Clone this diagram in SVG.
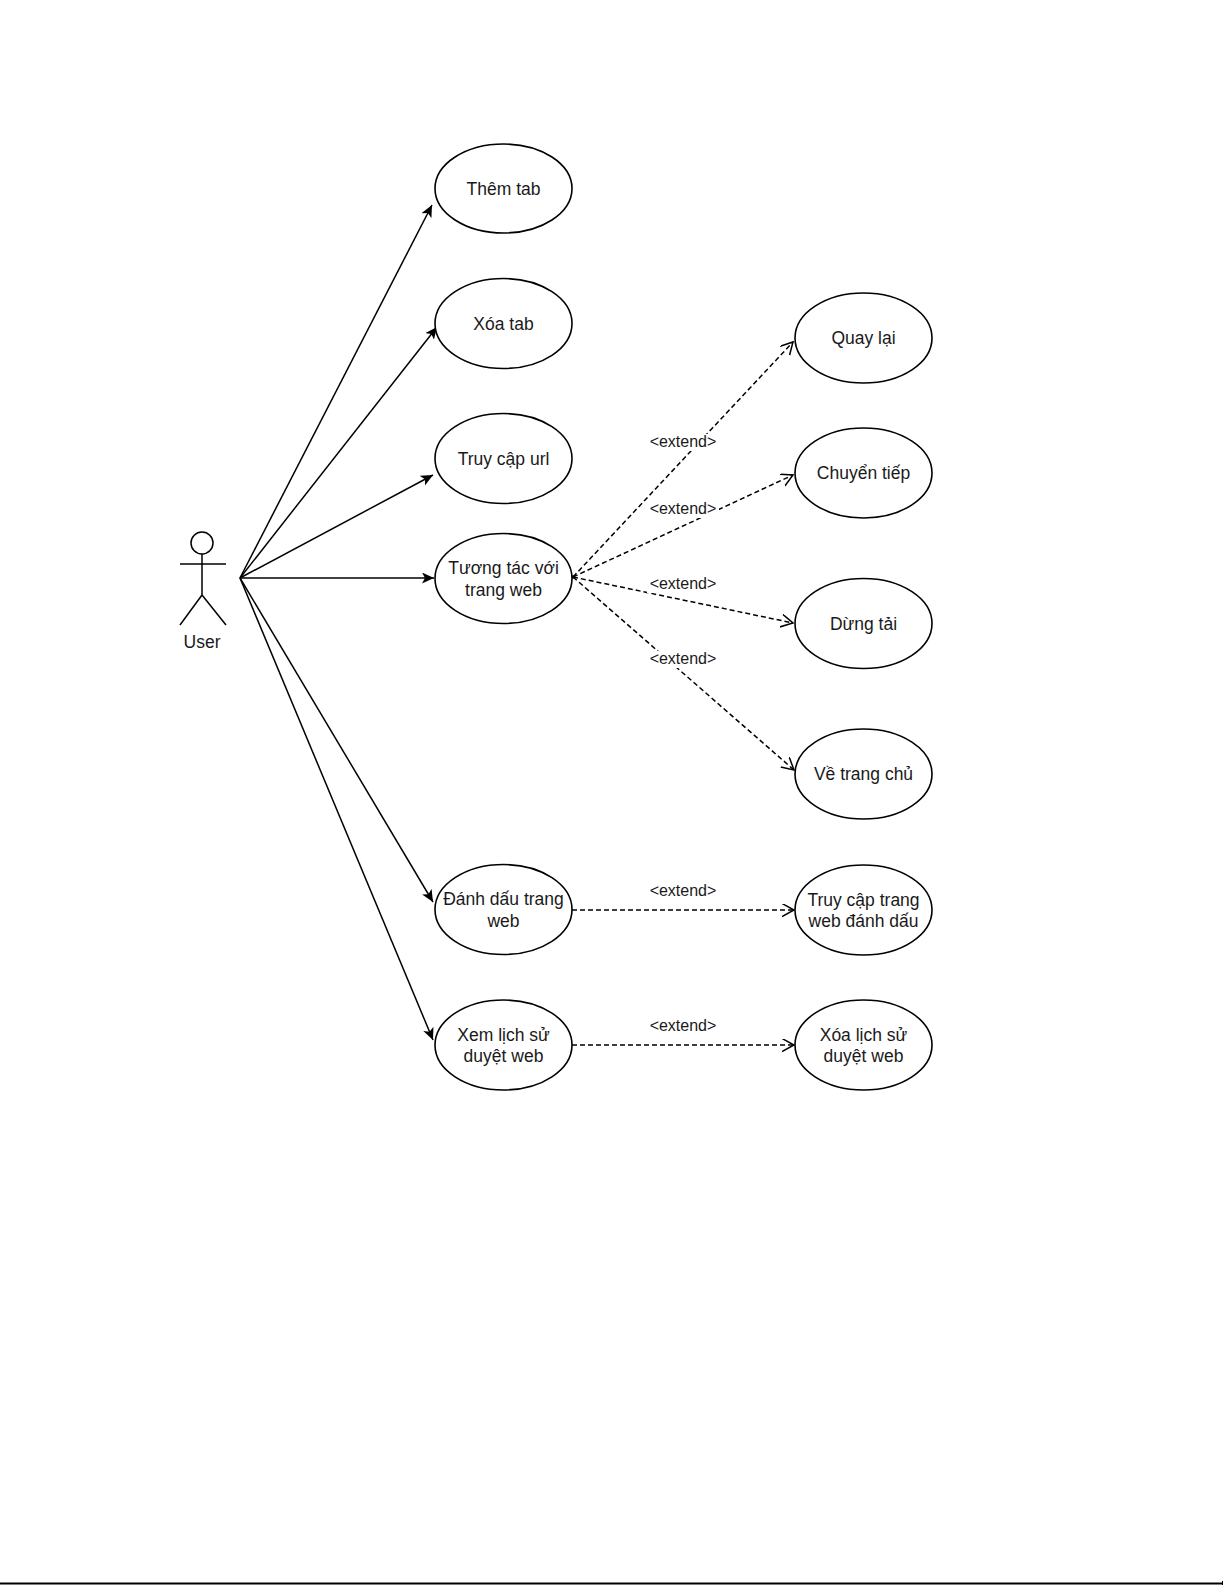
<svg xmlns="http://www.w3.org/2000/svg" width="1225" height="1585" viewBox="0 0 1225 1585">
<style>
.uc{fill:#fff;stroke:#000;stroke-width:1.6}
.t{font-family:"Liberation Sans",Arial,sans-serif;font-size:17.5px;fill:#1a1a1a;text-anchor:middle}
.lbl{font-family:"Liberation Sans",Arial,sans-serif;font-size:16px;fill:#1a1a1a;text-anchor:middle}
.lb{fill:#fff}
.assoc{stroke:#000;stroke-width:1.5;fill:none;marker-end:url(#block)}
.ext{stroke:#000;stroke-width:1.5;fill:none;stroke-dasharray:5 3;marker-end:url(#open)}
.act{stroke:#000;stroke-width:1.5;fill:none}
</style>
<defs>
<marker id="block" markerUnits="userSpaceOnUse" markerWidth="14" markerHeight="12" refX="12" refY="5.5" orient="auto">
<path d="M0,0 L12,5.5 L0,11 L3,5.5 Z" fill="#000"/>
</marker>
<marker id="open" markerUnits="userSpaceOnUse" markerWidth="14" markerHeight="14" refX="12" refY="6.5" orient="auto">
<path d="M0,0 L12,6.5 L0,13" fill="none" stroke="#000" stroke-width="1.5"/>
</marker>
</defs>
<rect x="0" y="0" width="1225" height="1585" fill="#fff"/>

<g id="connectors">
<line class="assoc" x1="240" y1="578" x2="432" y2="205"/>
<line class="assoc" x1="240" y1="578" x2="437" y2="327"/>
<line class="assoc" x1="240" y1="578" x2="433" y2="475"/>
<line class="assoc" x1="240" y1="578" x2="434" y2="578"/>
<line class="assoc" x1="240" y1="578" x2="433" y2="902"/>
<line class="assoc" x1="240" y1="578" x2="433" y2="1040"/>
<line class="ext" x1="573" y1="577" x2="793" y2="342"/>
<line class="ext" x1="573" y1="577" x2="793" y2="475"/>
<line class="ext" x1="573" y1="577" x2="793" y2="623"/>
<line class="ext" x1="573" y1="577" x2="794" y2="770"/>
<line class="ext" x1="572" y1="910" x2="794" y2="910"/>
<line class="ext" x1="572" y1="1045" x2="794" y2="1045"/>
<circle cx="573" cy="577" r="1.8" fill="#000"/>
<g id="labels">
<rect class="lb" x="647" y="434" width="72" height="17"/><text class="lbl" x="683" y="447">&lt;extend&gt;</text>
<rect class="lb" x="647" y="501" width="72" height="17"/><text class="lbl" x="683" y="514">&lt;extend&gt;</text>
<rect class="lb" x="647" y="576" width="72" height="17"/><text class="lbl" x="683" y="589">&lt;extend&gt;</text>
<rect class="lb" x="647" y="651" width="72" height="17"/><text class="lbl" x="683" y="664">&lt;extend&gt;</text>
<rect class="lb" x="647" y="883" width="72" height="17"/><text class="lbl" x="683" y="896">&lt;extend&gt;</text>
<rect class="lb" x="647" y="1018" width="72" height="17"/><text class="lbl" x="683" y="1031">&lt;extend&gt;</text>
</g>
</g>

<g id="actor-user">
<circle class="act" cx="202" cy="543" r="11"/>
<line class="act" x1="202" y1="554" x2="202" y2="595"/>
<line class="act" x1="180" y1="564" x2="226" y2="564"/>
<line class="act" x1="202" y1="595" x2="180" y2="625"/>
<line class="act" x1="202" y1="595" x2="226" y2="625"/>
<text class="t" x="202" y="648">User</text>
</g>

<g id="uc-them-tab"><ellipse class="uc" cx="503.5" cy="188.5" rx="68.5" ry="44.5"/><text class="t" x="503.5" y="194.5">Thêm tab</text></g>
<g id="uc-xoa-tab"><ellipse class="uc" cx="503.5" cy="323.5" rx="68.5" ry="45"/><text class="t" x="503.5" y="329.5">Xóa tab</text></g>
<g id="uc-truy-cap-url"><ellipse class="uc" cx="503.5" cy="458.5" rx="68.5" ry="45"/><text class="t" x="503.5" y="464.5">Truy cập url</text></g>
<g id="uc-tuong-tac"><ellipse class="uc" cx="503.5" cy="578.5" rx="68.5" ry="45"/><text class="t" x="503.5" y="574">Tương tác với</text><text class="t" x="503.5" y="595.5">trang web</text></g>
<g id="uc-danh-dau"><ellipse class="uc" cx="503.5" cy="909.5" rx="68.5" ry="45"/><text class="t" x="503.5" y="905">Đánh dấu trang</text><text class="t" x="503.5" y="926.5">web</text></g>
<g id="uc-xem-lich-su"><ellipse class="uc" cx="503.5" cy="1045" rx="68.5" ry="45"/><text class="t" x="503.5" y="1040.5">Xem lịch sử</text><text class="t" x="503.5" y="1062">duyệt web</text></g>

<g id="uc-quay-lai"><ellipse class="uc" cx="863.5" cy="338" rx="68.5" ry="45"/><text class="t" x="863.5" y="344">Quay lại</text></g>
<g id="uc-chuyen-tiep"><ellipse class="uc" cx="863.5" cy="473" rx="68.5" ry="45"/><text class="t" x="863.5" y="479">Chuyển tiếp</text></g>
<g id="uc-dung-tai"><ellipse class="uc" cx="863.5" cy="623.5" rx="68.5" ry="45"/><text class="t" x="863.5" y="629.5">Dừng tải</text></g>
<g id="uc-ve-trang-chu"><ellipse class="uc" cx="863.5" cy="774" rx="68.5" ry="45"/><text class="t" x="863.5" y="780">Về trang chủ</text></g>
<g id="uc-truy-cap-danh-dau"><ellipse class="uc" cx="863.5" cy="910" rx="68.5" ry="45"/><text class="t" x="863.5" y="905.5">Truy cập trang</text><text class="t" x="863.5" y="927">web đánh dấu</text></g>
<g id="uc-xoa-lich-su"><ellipse class="uc" cx="863.5" cy="1045" rx="68.5" ry="45"/><text class="t" x="863.5" y="1040.5">Xóa lịch sử</text><text class="t" x="863.5" y="1062">duyệt web</text></g>

<g id="page-edge">
<line x1="0" y1="1583.5" x2="1223" y2="1583.5" stroke="#000" stroke-width="1.8"/>
<line x1="1222.5" y1="1581" x2="1222.5" y2="1585" stroke="#000" stroke-width="1"/>
</g>
</svg>
